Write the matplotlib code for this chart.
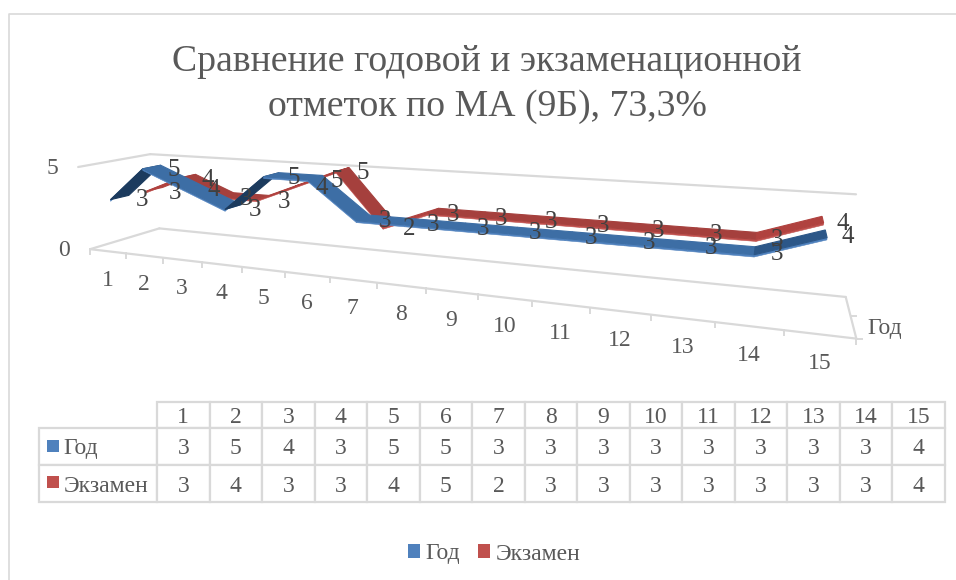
import numpy as np
import matplotlib
matplotlib.use('Agg')
import matplotlib.pyplot as plt
from matplotlib.patches import Patch, Polygon, Rectangle
from matplotlib.table import Table

plt.rcParams['font.family'] = ['Liberation Serif', 'DejaVu Serif']

# Data
categories = ['1', '2', '3', '4', '5', '6', '7', '8', '9', '10', '11', '12', '13', '14', '15']
god = [3, 5, 4, 3, 5, 5, 3, 3, 3, 3, 3, 3, 3, 3, 4]
exam = [3, 4, 3, 3, 4, 5, 2, 3, 3, 3, 3, 3, 3, 3, 4]

title = 'Сравнение годовой и экзаменационной\nотметок по МА (9Б), 73,3%'

TEXT = '#595959'
LABEL = '#404040'
GRID = '#d9d9d9'
BLUE = '#4f81bd'
RED = '#c0504d'

# Calibration of the 3D box: (category pos, depth, value) -> pixel
anchors = [
    (0, 0, 0, 91, 249), (4, 0, 0, 243, 267), (8, 0, 0, 426, 289),
    (12, 0, 0, 650, 315), (15, 0, 0, 855, 338),
    (0, 2, 0, 158, 228), (15, 2, 0, 847, 297),
    (0, 0, 5, 78, 166), (0, 2, 5, 152, 154), (15, 2, 5, 855, 195),
    (1.5, 0.5, 5, 150, 168), (6.5, 0.5, 3, 363, 219),
    (13.5, 0.5, 3, 756, 250), (14.5, 0.5, 4, 828, 233),
    (13.5, 1.5, 3, 756, 236), (14.5, 1.5, 4, 822, 219),
]

rows = []
for u, d, v, px, py in anchors:
    rows.append([u, d, v, 1, 0, 0, 0, 0, -px * u, -px * d, -px * v, -px])
    rows.append([0, 0, 0, 0, u, d, v, 1, -py * u, -py * d, -py * v, -py])
P = np.linalg.svd(np.array(rows, dtype=float))[2][-1].reshape(3, 4)


def project(u, d, v):
    h = P @ np.array([u, d, v, 1.0])
    return h[0] / h[2], h[1] / h[2]


def box_line(ax, start, end, lw=1.6):
    a = project(*start)
    b = project(*end)
    ax.plot([a[0], b[0]], [a[1], b[1]], color=GRID, lw=lw, solid_capstyle='round', zorder=1)


def ribbon(ax, values, depth, flat, rise1, rise2, light):
    half = 0.25
    thick = 0.1
    for i in range(len(values) - 1):
        u1, u2 = i + 0.5, i + 1.5
        v1, v2 = values[i], values[i + 1]
        quad = [project(u1, depth - half, v1), project(u2, depth - half, v2),
                project(u2, depth + half, v2), project(u1, depth + half, v1)]
        slope = v2 - v1
        face = flat
        if slope == 1:
            face = rise1
        if slope >= 2:
            face = rise2
        # lit front side of the ribbon goes under the top face
        side = [project(u1, depth - half, v1), project(u2, depth - half, v2),
                project(u2, depth - half, v2 - thick), project(u1, depth - half, v1 - thick)]
        ax.add_patch(Polygon(side, closed=True, facecolor=light, edgecolor=light, lw=0.4, zorder=3))
        ax.add_patch(Polygon(quad, closed=True, facecolor=face, edgecolor=face, lw=0.8, zorder=3))


fig = plt.figure(figsize=(9.56, 5.8), dpi=100)
ax = fig.add_axes([0, 0, 1, 1])
ax.set_xlim(0, 956)
ax.set_ylim(580, 0)
ax.axis('off')

# Chart area border
ax.plot([9.5, 9.5, 956], [580, 13.5, 13.5], color=GRID, lw=1.2, zorder=1)

ax.text(487, 84.5, title, ha='center', va='center', fontsize=27.2, color=TEXT, linespacing=1.38)

# Walls and floor
n = len(categories)
box_line(ax, (0, 0, 5), (0, 2, 5))
box_line(ax, (0, 2, 5), (n, 2, 5))
box_line(ax, (0, 0, 0), (0, 2, 0))
box_line(ax, (0, 2, 0), (n, 2, 0))
box_line(ax, (0, 0, 0), (n, 0, 0))
box_line(ax, (n, 0, 0), (n, 2, 0))

# Ticks on the front edge and on the depth edge
for i in range(n + 1):
    x, y = project(i, 0, 0)
    ax.plot([x, x], [y, y + 5], color=GRID, lw=1.4, zorder=1)
x, y = project(n, 1, 0)
ax.plot([x, x + 5], [y, y], color=GRID, lw=1.4, zorder=1)
x, y = project(n, 0, 0)
ax.plot([x, x + 6], [y, y], color=GRID, lw=1.4, zorder=1)

# Axis labels
for i, cat in enumerate(categories):
    x, y = project(i + 0.5, 0, 0)
    ax.text(x, y + 29, cat, ha='center', va='center', fontsize=17, color=TEXT)
for val in [0, 5]:
    x, y = project(0, 0, val)
    ax.text(x - 26, y + 1, str(val), ha='center', va='center', fontsize=17, color=TEXT)
x, y = project(n, 1, 0)
ax.text(x + 17, y + 12, 'Год', ha='left', va='center', fontsize=17, color=TEXT)

# Series, back one first
ribbon(ax, exam, 1.5, '#a5403d', '#b0423f', '#a83c39', '#c0504d')
ribbon(ax, god, 0.5, '#3d6ea5', '#2c5788', '#1c3b5e', '#4f81bd')

# Data labels
for i, val in enumerate(exam):
    x, y = project(i + 0.5, 1.5, val)
    ax.text(x + 20, y + 4, str(val), ha='center', va='center', fontsize=18, color=LABEL, zorder=5)
for i, val in enumerate(god):
    x, y = project(i + 0.5, 0.5, val)
    ax.text(x + 22, y + 3, str(val), ha='center', va='center', fontsize=18, color=LABEL, zorder=5)

# Data table, cell sizes as fractions of the axes
col_w = (945 - 157) / n / 956
label_w = 118 / 956
head_h, row_h = 26 / 580, 37 / 580
tb = Table(ax, bbox=[157 / 956, 1 - 502 / 580, 788 / 956, 100 / 580])
for c, cat in enumerate(categories):
    tb.add_cell(0, c, col_w, head_h, text=cat, loc='center', edgecolor=GRID)
for r, (name, vals) in enumerate([('Год', god), ('Экзамен', exam)], start=1):
    cell = tb.add_cell(r, -1, label_w, row_h, text=name, loc='left', edgecolor=GRID)
    cell.PAD = 0.21
    for c, val in enumerate(vals):
        tb.add_cell(r, c, col_w, row_h, text=str(val), loc='center', edgecolor=GRID)
tb.auto_set_font_size(False)
tb.set_fontsize(17)
for cell in tb.get_celld().values():
    cell.set_linewidth(1.6)
    cell.get_text().set_color(TEXT)
    cell.get_text().set_verticalalignment('center_baseline')
ax.add_table(tb)

# Swatches in the table
ax.add_patch(Rectangle((47, 440), 12, 12, facecolor=BLUE, edgecolor='none', zorder=5))
ax.add_patch(Rectangle((47, 476), 12, 12, facecolor=RED, edgecolor='none', zorder=5))

# Legend
handles = [Patch(facecolor=BLUE, label='Год'), Patch(facecolor=RED, label='Экзамен')]
ax.legend(handles=handles, loc='center', bbox_to_anchor=(494 / 956, 1 - 554 / 580), ncols=2,
          frameon=False, fontsize=17, labelcolor=TEXT, handlelength=0.51, handleheight=0.51,
          handletextpad=0.21, columnspacing=0.8, borderpad=0)

fig.savefig('out.png', dpi=100)
